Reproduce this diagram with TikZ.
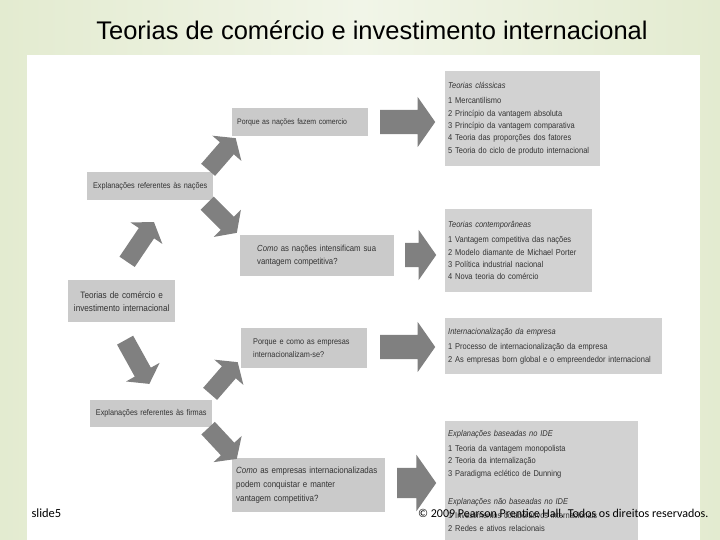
\documentclass[tikz,border=0pt]{standalone}
\usepackage{fontspec}
\setmainfont{Liberation Sans}
\newfontfamily\boxfont[FakeStretch=0.88]{Liberation Sans}
\newfontfamily\footfont{Carlito}
\usetikzlibrary{shapes.arrows,positioning}
\definecolor{Slide}{HTML}{E3EBD0}
\definecolor{SlideLight}{HTML}{F1F5E8}
\definecolor{BoxGray}{HTML}{CACACA}
\definecolor{PanelGray}{HTML}{D2D2D2}
\definecolor{ArrowGray}{HTML}{808080}
\definecolor{Ink}{HTML}{333333}

\begin{document}
\begin{tikzpicture}[x=1pt,y=-1pt,
        box/.style={fill=BoxGray,text=Ink,anchor=north west,inner ysep=0pt,align=left,
          font=\boxfont\fontsize{8.3}{13}\selectfont},
        panel/.style={box,fill=PanelGray,inner xsep=3pt,font=\boxfont\fontsize{8.5}{12.3}\selectfont},
        cbox/.style={box,align=center,inner xsep=0pt},
        bigarrow/.style={single arrow,fill=ArrowGray,anchor=tail,inner xsep=0pt,inner ysep=12pt,
          minimum width=0pt,single arrow head extend=13pt,single arrow tip angle=110,
          single arrow head indent=0pt},
        diagarrow/.style={bigarrow,inner ysep=9pt,single arrow head extend=10pt}]
        % background and panel
        \fill[left color=Slide,right color=Slide,middle color=SlideLight] (0,0) rectangle (720,540);
        \fill[white] (27,55) rectangle (700,540);
        \useasboundingbox (0,0) rectangle (720,540);
        \node[font=\fontsize{25.5}{28}\selectfont] (title) at (372,30) {Teorias de comércio e investimento internacional};

        % left column
        \node[cbox,minimum width=126pt,minimum height=28pt,text width=126pt] (nacoes) at (87,172) {Explanações referentes às nações};
        \node[cbox,minimum width=107pt,minimum height=42pt,text width=107pt,
          font=\boxfont\fontsize{9.3}{13}\selectfont] (teorias) at (68,280) {Teorias de comércio e\\investimento internacional};
        \node[cbox,minimum width=122pt,minimum height=27pt,text width=122pt] (firmas) at (90,400) {Explanações referentes às firmas};

        % questions
        \node[box,inner xsep=5pt,text width=126pt,minimum height=28pt,
          font=\boxfont\fontsize{7.9}{13}\selectfont] (q1) at (232,108) {Porque as nações fazem comercio};
        \node[box,inner xsep=17pt,text width=120pt,minimum height=41pt,
          font=\boxfont\fontsize{8.8}{13}\selectfont] (q2) at (240,235) {\textit{Como} as nações intensificam sua\\vantagem competitiva?};
        \node[box,inner xsep=12pt,text width=102pt,minimum height=40pt] (q3) at (241,328) {Porque e  como as empresas\\internacionalizam-se?};
        \node[box,inner xsep=4pt,text width=145pt,minimum height=54pt,
          font=\boxfont\fontsize{9}{14}\selectfont] (q4) at (232,458) {\textit{Como} as empresas internacionalizadas\\podem conquistar e manter\\vantagem competitiva?};

        % theory panels
        \node[panel,text width=149pt,minimum height=95pt] (classicas) at (445,71) {\textit{Teorias clássicas}\\[3pt]
          1 Mercantilismo\\2 Princípio da vantagem absoluta\\3 Princípio da vantagem comparativa\\
          4 Teoria das proporções dos fatores\\5 Teoria do ciclo de produto internacional};
        \node[panel,text width=141pt,minimum height=83pt] (contemp) at (445,209) {\textit{Teorias contemporâneas}\\[3pt]
          1 Vantagem competitiva das nações\\2 Modelo diamante de Michael Porter\\
          3 Política industrial nacional\\4 Nova teoria do comércio};
        \node[panel,text width=211pt,minimum height=56pt] (internac) at (445,318) {\textit{Internacionalização da empresa}\\[3pt]
          1 Processo de internacionalização da empresa\\2 As empresas born global e o empreendedor internacional};
        \node[panel,text width=187pt,minimum height=119pt] (ide) at (445,421) {\textit{Explanações baseadas no IDE}\\[3pt]
          1 Teoria da vantagem monopolista\\2 Teoria da internalização\\3 Paradigma eclético de Dunning\\[16pt]
          \textit{Explanações não baseadas no IDE}\\[2pt]
          1 Investimentos colaborativos internacionais\\2 Redes e ativos relacionais};

        % block arrows
        \node[diagarrow,minimum height=48pt,rotate=56] (a1) at (127,262) {};
        \node[diagarrow,minimum height=42pt,rotate=49] (a2) at (208,170) {};
        \node[diagarrow,minimum height=42pt,rotate=-45] (a3) at (207,203) {};
        \node[diagarrow,minimum height=50pt,rotate=-61] (a4) at (125,340) {};
        \node[diagarrow,minimum height=42pt,rotate=49] (a5) at (210,394) {};
        \node[diagarrow,minimum height=42pt,rotate=-47] (a6) at (208,428) {};
        \node[bigarrow,minimum height=55pt] (r1) at (380,122) {};
        \node[bigarrow,minimum height=31pt] (r2) at (405,255) {};
        \node[bigarrow,minimum height=55pt] (r3) at (380,347) {};
        \node[bigarrow,minimum height=39pt,inner ysep=15pt] (r4) at (397,483) {};

        % footer
        \node[anchor=base west,font=\footfont\fontsize{12.5}{15}\selectfont] (slide) at (28,517) {slide5};
        \node[anchor=base east,font=\footfont\fontsize{12}{15}\selectfont] (copy) at (712,517) {© 2009 Pearson Prentice Hall. Todos os direitos reservados.};
      \end{tikzpicture}
\end{document}
